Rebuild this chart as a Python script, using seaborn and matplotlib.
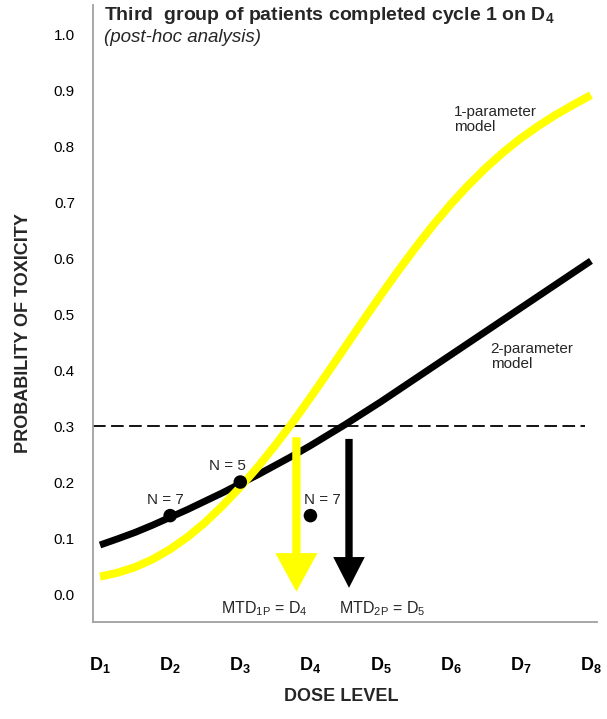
import matplotlib
matplotlib.use("Agg")
import matplotlib.pyplot as plt
import numpy as np
import pandas as pd
import seaborn as sns

# ---- data ----
dose_grid = [1.00, 1.25, 1.50, 1.75, 2.00, 2.25, 2.50, 2.75, 3.00, 3.25,
             3.50, 3.75, 4.00, 4.25, 4.50, 4.75, 5.00, 5.25, 5.50, 5.75,
             6.00, 6.25, 6.50, 6.75, 7.00, 7.25, 7.50, 7.75, 8.00]
p_one_param = [0.031, 0.038, 0.048, 0.062, 0.080, 0.102, 0.128, 0.158, 0.191, 0.227,
               0.266, 0.307, 0.351, 0.396, 0.442, 0.488, 0.533, 0.577, 0.619, 0.659,
               0.696, 0.730, 0.761, 0.789, 0.814, 0.836, 0.856, 0.874, 0.891]
p_two_param = [0.0875, 0.0985, 0.110, 0.123, 0.137, 0.151, 0.166, 0.181, 0.197, 0.213,
               0.230, 0.247, 0.265, 0.284, 0.303, 0.323, 0.343, 0.364, 0.385, 0.406,
               0.427, 0.448, 0.469, 0.490, 0.511, 0.532, 0.553, 0.574, 0.595]

obs_dose = [2.0, 3.0, 4.0]
obs_rate = [0.14, 0.20, 0.14]
obs_labels = ["N = 7", "N = 5", "N = 7"]

target_tox = 0.3
mtd_one = 3.80
mtd_two = 4.55

tick_labels = [r"$\mathbf{D_{%d}}$" % i for i in range(1, 9)]
y_ticks = [0.0, 0.1, 0.2, 0.3, 0.4, 0.5, 0.6, 0.7, 0.8, 0.9, 1.0]

df = pd.DataFrame({
    "dose": dose_grid * 2,
    "p": p_one_param + p_two_param,
    "model": ["1-parameter"] * len(dose_grid) + ["2-parameter"] * len(dose_grid),
})
obs = pd.DataFrame({"dose": obs_dose, "p": obs_rate})

# ---- styling ----
sns.set_style("white")
plt.rcParams["font.family"] = ["Liberation Sans", "DejaVu Sans"]
plt.rcParams["mathtext.fontset"] = "custom"
plt.rcParams["mathtext.rm"] = "Liberation Sans"
plt.rcParams["mathtext.it"] = "Liberation Sans:italic"
plt.rcParams["mathtext.bf"] = "Liberation Sans:bold"

W, H = 607, 719
fig = plt.figure(figsize=(W / 100, H / 100), dpi=100)
ax = fig.add_axes([93 / W, 1 - 622 / H, 504 / W, 617 / H])

gray = "#A0A0A0"

sns.lineplot(data=df[df.model == "2-parameter"], x="dose", y="p", color="black",
             lw=5.0, ax=ax, legend=False, solid_capstyle="butt",
             solid_joinstyle="round", zorder=3)
sns.lineplot(data=df[df.model == "1-parameter"], x="dose", y="p", color="#FFFF00",
             lw=5.8, ax=ax, legend=False, solid_capstyle="butt",
             solid_joinstyle="round", zorder=4)

ax.axhline(target_tox, xmin=0, xmax=0.976, color="black", lw=1.3,
           ls=(0, (7, 3)), zorder=2)

sns.scatterplot(data=obs, x="dose", y="p", color="black", s=95, ax=ax,
                edgecolor="none", zorder=6, legend=False)

# arrows to the MTD
ax.arrow(mtd_one, 0.28, 0, 0.004 - 0.28, width=0.118, head_width=0.60,
         head_length=0.069, length_includes_head=True, color="#FFFF00",
         lw=0, zorder=5)
ax.arrow(mtd_two, 0.277, 0, 0.011 - 0.277, width=0.105, head_width=0.45,
         head_length=0.055, length_includes_head=True, color="black",
         lw=0, zorder=5)

# annotations
fs = 11
ax.text(1.93, 0.168, obs_labels[0], ha="center", va="center", fontsize=fs)
ax.text(2.82, 0.229, obs_labels[1], ha="center", va="center", fontsize=fs)
ax.text(4.17, 0.168, obs_labels[2], ha="center", va="center", fontsize=fs)

ax.text(6.05, 0.848, "1-parameter\nmodel", ha="left", va="center",
        fontsize=fs, linespacing=1.1)
ax.text(6.57, 0.425, "2-parameter\nmodel", ha="left", va="center",
        fontsize=fs, linespacing=1.1)

ax.text(3.34, -0.027, r"MTD$_{\mathrm{1P}}$ = D$_{\mathrm{4}}$", ha="center",
        va="center", fontsize=11.5)
ax.text(5.02, -0.027, r"MTD$_{\mathrm{2P}}$ = D$_{\mathrm{5}}$", ha="center",
        va="center", fontsize=11.5)

fig.text(104 / W, 1 - 16 / H,
         r"Third  group of patients completed cycle 1 on D$_\mathbf{4}$",
         ha="left", va="center", fontsize=14, fontweight="bold")
fig.text(104 / W, 1 - 37 / H, "(post-hoc analysis)", ha="left", va="center",
         fontsize=13.5, style="italic")

# axes
ax.set_xlim(0.9, 8.086)
ax.set_ylim(-0.05, 1.052)
ax.set_xticks(range(1, 9))
ax.set_xticklabels(tick_labels, fontsize=13)
ax.set_yticks(y_ticks)
ax.set_yticklabels([f"{v:.1f}" for v in y_ticks], fontsize=11)

for side in ["top", "right"]:
    ax.spines[side].set_visible(False)
for side in ["left", "bottom"]:
    ax.spines[side].set_color(gray)
    ax.spines[side].set_linewidth(1.3)

ax.tick_params(axis="both", direction="out", length=4, width=1, color=gray,
               labelcolor="black")
ax.tick_params(axis="x", pad=20)
ax.tick_params(axis="y", pad=9)

ax.set_xlabel("DOSE LEVEL", fontsize=13, fontweight="bold")
ax.set_ylabel("PROBABILITY OF TOXICITY", fontsize=13, fontweight="bold")
ax.xaxis.set_label_coords(0.492, -0.107)
ax.yaxis.set_label_coords(-0.121, 0.468)

fig.savefig("out.png", dpi=100, facecolor="white")
